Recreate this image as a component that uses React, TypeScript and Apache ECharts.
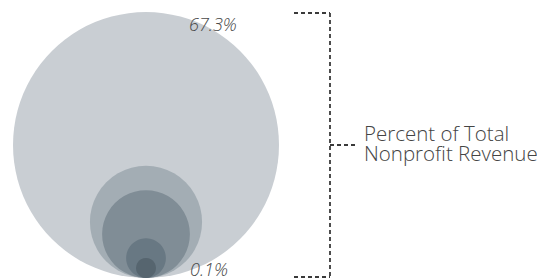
import React, { useEffect, useRef } from "react";
import * as echarts from "echarts";

const categories = ["A", "B", "C", "D", "E"];
const percentValues = [67.3, 10.7, 6.2, 0.9, 0.1];
const circleColors = ["#c9ced3", "#a3adb4", "#808d96", "#687883", "#56656f"];
const valueLabels = ["67.3%", "0.1%"];
const legendLines = ["Percent of Total", "Nonprofit Revenue"];

const MIN_R = 10;
const MAX_R = 133;

function radiusOf(v: number): number {
  const lo = Math.sqrt(Math.min(...percentValues));
  const hi = Math.sqrt(Math.max(...percentValues));
  return MIN_R + ((Math.sqrt(v) - lo) / (hi - lo)) * (MAX_R - MIN_R);
}

export default function App() {
  const ref = useRef<HTMLDivElement>(null);
  useEffect(() => {
    const chart = echarts.init(ref.current!, null, { renderer: "svg" });
    const data = percentValues.map((v, i) => ({
      name: categories[i],
      value: [0, radiusOf(v)],
      itemStyle: { color: circleColors[i] },
    }));
    const dash = { stroke: "#3a3a3a", lineWidth: 1.8, lineDash: [4, 3] };
    const labelStyle = {
      fill: "#4a4a4a",
      font: "italic 300 18px 'Open Sans', 'Segoe UI', sans-serif",
      lineHeight: 20,
    };
    const legendStyle = {
      fill: "#444",
      font: "300 20.5px 'Open Sans', 'Segoe UI', sans-serif",
      lineHeight: 20,
    };
    chart.setOption({
      animation: false,
      grid: { left: 13, top: 12, width: 266, height: 266 },
      xAxis: { type: "value", min: -133, max: 133, show: false },
      yAxis: { type: "value", min: 0, max: 266, show: false },
      series: [
        {
          type: "custom",
          data,
          renderItem: (params: any, api: any) => {
            const r = api.value(1);
            const c = api.coord([api.value(0), r]);
            const rp = api.size([0, r])[1];
            return {
              type: "circle",
              shape: { cx: c[0], cy: c[1], r: rp },
              style: { fill: circleColors[params.dataIndex] },
            };
          },
        },
      ],
      graphic: [
        { type: "text", z: 100, left: 189, top: 14, style: { text: valueLabels[0], ...labelStyle } },
        { type: "text", z: 100, left: 190, top: 259, style: { text: valueLabels[1], ...labelStyle } },
        { type: "line", z: 100, shape: { x1: 294, y1: 13, x2: 330, y2: 13 }, style: dash },
        { type: "line", z: 100, shape: { x1: 330, y1: 13, x2: 330, y2: 277 }, style: dash },
        { type: "line", z: 100, shape: { x1: 294, y1: 277, x2: 330, y2: 277 }, style: dash },
        { type: "line", z: 100, shape: { x1: 330, y1: 145, x2: 357, y2: 145 }, style: dash },
        { type: "text", z: 100, left: 364, top: 122, style: { text: legendLines[0], ...legendStyle } },
        { type: "text", z: 100, left: 364, top: 142, style: { text: legendLines[1], ...legendStyle } },
      ],
    });
    return () => chart.dispose();
  }, []);
  return <div ref={ref} style={{ width: 537, height: 280, position: "absolute", left: 0, top: 0 }} />;
}
